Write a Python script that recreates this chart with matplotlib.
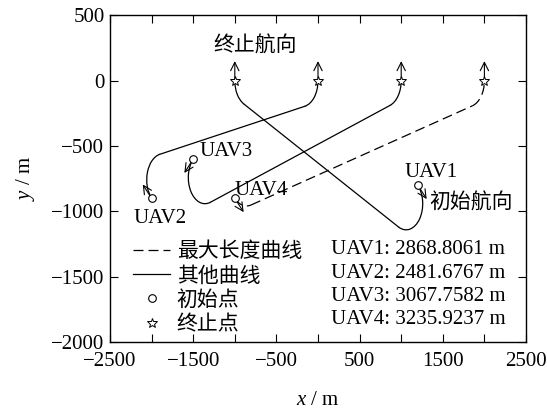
import numpy as np
import matplotlib
matplotlib.use("Agg")
import matplotlib.pyplot as plt
from matplotlib.patches import Arc
from matplotlib.lines import Line2D

plt.rcParams["font.family"] = ["Liberation Serif", "Noto Sans CJK SC"]
plt.rcParams["mathtext.fontset"] = "custom"
plt.rcParams["mathtext.it"] = "Liberation Serif:italic"
plt.rcParams["mathtext.rm"] = "Liberation Serif"
plt.rcParams["font.size"] = 15

# --- data (m), one entry per UAV ---
uav_names = ["UAV1", "UAV2", "UAV3", "UAV4"]
path_len = [2868.8061, 2481.6767, 3067.7582, 3235.9237]
start_x = [1200, -2000, -1500, -1000]
start_y = [-800, -900, -600, -900]
start_dir = [-45, 135, 225, -45]          # initial heading, deg
end_x = [-1000, 0, 1000, 2000]
end_y = [0, 0, 0, 0]
end_dir = [90, 90, 90, 90]                # final heading, deg
turn_r = 200

# first turn: circle centre + angular span (ccw from a to b)
arc1_cx = [1058.6, -1858.6, -1358.6, -858.6]
arc1_cy = [-941.4, -758.6, -741.4, -758.6]
arc1_a = [-116.86, 101.91, 135.0, 225.0]
arc1_b = [45.0, 225.0, 288.96, 285.93]
# straight leg
leg_x0 = [968.2, -1899.9, -1293.6, -803.7]
leg_y0 = [-1119.8, -562.9, -930.6, -950.9]
leg_x1 = [-890.4, -158.7, 865.0, 1854.9]
leg_y1 = [-178.4, -195.7, -189.2, -192.3]
# final turn
arc2_cx = [-800, -200, 800, 1800]
arc2_cy = [0, 0, 0, 0]
arc2_a = [180.0, -78.09, -71.04, -74.07]
arc2_b = [243.14, 0.0, 0.0, 0.0]

arrow_len = 150

fig = plt.figure(figsize=(5.47, 4.11), dpi=100)
ax = fig.add_axes([0.2011, 0.1679, 0.7605, 0.7946])

longest = int(np.argmax(path_len))
dash = (0, (8, 4))
lw = 0.9

for i in range(len(uav_names)):
    ls = dash if i == longest else "-"
    for cx, cy, a, b in [(arc1_cx[i], arc1_cy[i], arc1_a[i], arc1_b[i]),
                         (arc2_cx[i], arc2_cy[i], arc2_a[i], arc2_b[i])]:
        ax.add_patch(Arc((cx, cy), 2 * turn_r, 2 * turn_r, theta1=a, theta2=b,
                         color="k", lw=lw, linestyle=ls))
    ax.plot([leg_x0[i], leg_x1[i]], [leg_y0[i], leg_y1[i]], color="k", lw=lw, linestyle=ls)

    # heading arrows
    for px, py, d in [(start_x[i], start_y[i], start_dir[i]), (end_x[i], end_y[i], end_dir[i])]:
        t = np.deg2rad(d)
        ax.annotate("", xy=(px + arrow_len * np.cos(t), py + arrow_len * np.sin(t)), xytext=(px, py),
                    arrowprops=dict(arrowstyle="->,head_length=0.4,head_width=0.2", color="k",
                                    lw=0.8, shrinkA=0, shrinkB=0))

ax.plot(start_x, start_y, "o", ls="none", mfc="white", mec="k", ms=5.5, mew=0.8, zorder=5)
ax.plot(end_x, end_y, "*", ls="none", mfc="white", mec="k", ms=7.5, mew=0.7, zorder=5)

# labels
ax.text(1361, -699, "UAV1", ha="center", va="center")
ax.text(1340, -940, "初始航向", ha="left", va="center")
ax.text(-1894, -1052, "UAV2", ha="center", va="center")
ax.text(-1105, -544, "UAV3", ha="center", va="center")
ax.text(-686, -837, "UAV4", ha="center", va="center")
ax.text(-755, 260, "终止航向", ha="center", va="center")

handles = [
    Line2D([], [], color="k", lw=lw, linestyle=dash, label="最大长度曲线"),
    Line2D([], [], color="k", lw=lw, label="其他曲线"),
    Line2D([], [], marker="o", ls="none", mfc="white", mec="k", ms=5.5, mew=0.8, label="初始点"),
    Line2D([], [], marker="*", ls="none", mfc="white", mec="k", ms=7.5, mew=0.7, label="终止点"),
]
ax.legend(handles=handles, loc="upper left", bbox_to_anchor=(0.055, 0.305), frameon=False,
          borderpad=0, borderaxespad=0, handlelength=1.8, handletextpad=0.3, labelspacing=0.22)

for i, (n, v) in enumerate(zip(uav_names, path_len)):
    ax.text(0.531, 0.2817 - i * 0.0714, f"{n}: {v:.4f} m", transform=ax.transAxes, va="center")

ax.set_xlim(-2500, 2500)
ax.set_ylim(-2000, 500)
xt = np.arange(-2500, 2501, 500)
ax.set_xticks(xt)
ax.set_xticklabels([str(v).replace("-", "\u2212") if (v // 500) % 2 else "" for v in xt])
ax.set_yticks(np.arange(-2000, 501, 500))
ax.tick_params(direction="in", top=True, right=True, length=5.5, width=0.8, pad=4)
ax.tick_params(axis="x", pad=7.5)
for s in ax.spines.values():
    s.set_linewidth(1.0)

ax.set_xlabel(r"$x$ / m")
ax.set_ylabel(r"$y$ / m")
ax.xaxis.set_label_coords(0.5, -0.15)
ax.yaxis.set_label_coords(-0.175, 0.5)

fig.savefig("out.png", dpi=100)
